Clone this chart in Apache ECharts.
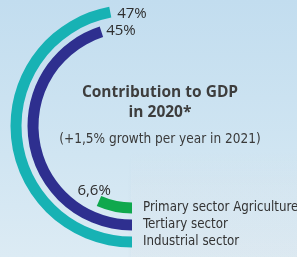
<!DOCTYPE html>
<html>
<head>
    <meta charset="utf-8">
    <title>Contribution to GDP</title>
    <script src="https://cdn.jsdelivr.net/npm/echarts@6/dist/echarts.min.js"></script>
    <style>
        html, body { margin: 0; padding: 0; }
        #chart1 { width: 297px; height: 257px; }
    </style>
</head>
<body>
<!-- chart box -->
<div id="chart1"></div>

<script type="text/javascript">
    // sectors, inner ring first
    let sectors = ['Primary sector Agriculture', 'Tertiary sector', 'Industrial sector'];
    let shares = [6.6, 45, 47];
    let ringColors = ['#0fa84d', '#2e2f8f', '#17b2b4'];
    // nudge of the % labels so they sit like in the print
    let labelNudge = [[-17, -8], [0, 0], [2, 3]];

    let narrow = '"Liberation Sans Narrow", "DejaVu Sans Condensed", sans-serif';

    let myChart1 = echarts.init(document.getElementById('chart1'));

    myChart1.setOption({
        backgroundColor: {
            type: 'linear', x: 0, y: 0, x2: 0, y2: 1,
            colorStops: [
                {offset: 0, color: '#c2ddef'},
                {offset: 0.6, color: '#d0e5f2'},
                {offset: 1, color: '#dcebf4'}
            ]
        },
        title: {
            text: 'Contribution to GDP\nin 2020*',
            subtext: '(+1,5% growth per year in 2021)',
            left: 160,
            top: 83,
            textAlign: 'center',
            itemGap: 8,
            padding: 0,
            textStyle: {
                fontFamily: '"Open Sans", sans-serif',
                fontSize: 15.5,
                fontWeight: 'bold',
                lineHeight: 20,
                color: '#3d3d3d'
            },
            subtextStyle: {
                fontFamily: narrow,
                fontSize: 13.5,
                lineHeight: 16,
                color: '#3a3a3a'
            }
        },
        graphic: [{
            type: 'rect',
            z: -1,
            shape: {x: 131, y: 150, width: 170, height: 120},
            style: {
                fill: {
                    type: 'linear', x: 0, y: 0, x2: 0, y2: 1,
                    colorStops: [
                        {offset: 0, color: 'rgba(255,255,255,0)'},
                        {offset: 0.3, color: 'rgba(255,255,255,0.1)'},
                        {offset: 1, color: 'rgba(255,255,255,0.15)'}
                    ]
                },
                shadowBlur: 3,
                shadowOffsetX: -1,
                shadowColor: 'rgba(60,80,100,0.25)'
            }
        }],
        polar: {
            center: [132, 126],
            radius: [73.5, 124.5]
        },
        angleAxis: {
            type: 'value',
            min: 0,
            max: 100,
            startAngle: 270,
            clockwise: true,
            show: false
        },
        radiusAxis: {
            type: 'category',
            data: sectors,
            axisLine: {show: false},
            axisTick: {show: false},
            axisLabel: {
                show: true,
                interval: 0,
                margin: 11,
                fontFamily: narrow,
                fontSize: 13.2,
                color: '#333'
            }
        },
        series: [{
            type: 'bar',
            coordinateSystem: 'polar',
            barWidth: 11,
            data: shares.map(function (v, i) {
                return {
                    value: v,
                    itemStyle: {color: ringColors[i]},
                    label: {offset: labelNudge[i]}
                };
            }),
            label: {
                show: true,
                position: 'end',
                rotate: 0,
                distance: 5,
                fontFamily: '"Open Sans", sans-serif',
                fontSize: 15,
                color: '#2e2e2e',
                formatter: function (p) {
                    return String(p.value).replace('.', ',') + '%';
                }
            },
            silent: true
        }]
    });
</script>
</body>
</html>
